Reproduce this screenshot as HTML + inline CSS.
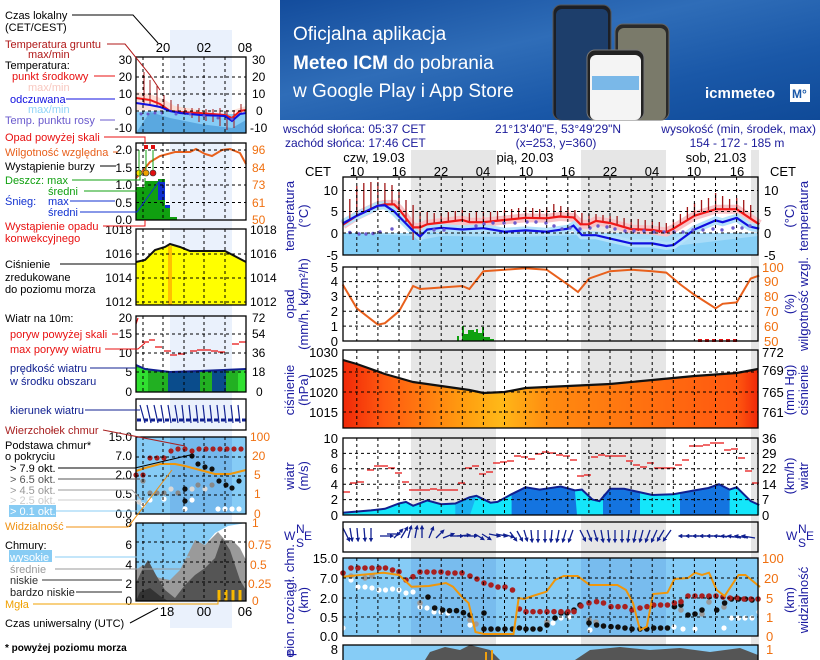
<!DOCTYPE html>
<html><head><meta charset="utf-8"><style>
html,body{margin:0;padding:0;background:#fff;}
svg{display:block;font-family:"Liberation Sans",Arial,sans-serif;}
</style></head><body>
<svg width="820" height="660" viewBox="0 0 820 660" xmlns="http://www.w3.org/2000/svg">
<defs>
<linearGradient id="bn" x1="0" y1="0" x2="1" y2="1"><stop offset="0" stop-color="#134c9c"/><stop offset="0.4" stop-color="#2f6db8"/><stop offset="0.7" stop-color="#1a58a8"/><stop offset="1" stop-color="#0f4a98"/></linearGradient>
<linearGradient id="pr" x1="0" y1="0" x2="1" y2="0"><stop offset="0" stop-color="#f02808"/><stop offset="0.1" stop-color="#ff5a10"/><stop offset="0.3" stop-color="#ffa010"/><stop offset="0.38" stop-color="#ffb818"/><stop offset="0.5" stop-color="#ff8a10"/><stop offset="0.8" stop-color="#ff6810"/><stop offset="0.95" stop-color="#ff5810"/><stop offset="1" stop-color="#f02808"/></linearGradient>
<marker id="ah" markerUnits="userSpaceOnUse" viewBox="0 0 6 6" markerWidth="4.5" markerHeight="4.5" refX="3" refY="3" orient="auto"><path d="M0,0L6,3L0,6Z" fill="#102090"/></marker>
</defs>
<rect width="820" height="660" fill="#fff"/>
<!-- banner -->
<rect x="280" y="0" width="540" height="120" fill="url(#bn)"/>
<text x="293" y="40" font-size="19" fill="#fff">Oficjalna aplikacja</text>
<text x="293" y="69" font-size="19" fill="#fff"><tspan font-weight="bold">Meteo ICM</tspan> do pobrania</text>
<text x="293" y="97" font-size="19" fill="#fff">w Google Play i App Store</text>
<rect x="553" y="5" width="58" height="115" rx="8" fill="#1c1f26" stroke="#555"/>
<rect x="556" y="9" width="52" height="111" rx="6" fill="#1d3e6b"/>
<rect x="615" y="24" width="54" height="96" rx="8" fill="#2a2a2a" stroke="#666"/>
<rect x="618" y="28" width="48" height="92" rx="6" fill="#7a7a6a"/>
<rect x="587" y="50" width="57" height="70" rx="8" fill="#222" stroke="#777"/>
<rect x="590" y="55" width="51" height="65" rx="6" fill="#f4f4f4"/>
<rect x="592" y="76" width="47" height="14" fill="#7ab8e8"/>
<text x="705" y="98" font-size="15" font-weight="bold" fill="#fff">icmmeteo</text>
<rect x="790" y="84" width="20" height="18" fill="#fff"/>
<text x="792" y="98" font-size="12" font-weight="bold" fill="#1a58a8">M°</text>

<!-- night bands -->
<rect x="411" y="150" width="85" height="510" fill="#e6e6e6"/>
<rect x="581" y="150" width="85" height="510" fill="#e6e6e6"/>
<rect x="751" y="150" width="8" height="510" fill="#e6e6e6"/>
<rect x="170" y="30" width="62" height="598" fill="#eaf1fc"/>

<!-- header text -->
<g font-size="12" fill="#1a1a9a">
<text x="283" y="133">wschód słońca: 05:37 CET</text>
<text x="285" y="147">zachód słońca: 17:46 CET</text>
<text x="558" y="133" text-anchor="middle">21°13'40"E, 53°49'29"N</text>
<text x="556" y="147" text-anchor="middle">(x=253,  y=360)</text>
<text x="816" y="133" text-anchor="end">wysokość (min, środek, max)</text>
<text x="737" y="147" text-anchor="middle">154 - 172 - 185 m</text>
</g>
<g font-size="13" fill="#000" text-anchor="middle">
<text x="374" y="162">czw, 19.03</text>
<text x="525" y="162">pią, 20.03</text>
<text x="716" y="162">sob, 21.03</text>
<text x="318" y="176">CET</text><text x="783" y="176">CET</text>
<text x="357" y="176">10</text><text x="399" y="176">16</text><text x="441" y="176">22</text><text x="483" y="176">04</text>
<text x="526" y="176">10</text><text x="568" y="176">16</text><text x="610" y="176">22</text><text x="652" y="176">04</text>
<text x="694" y="176">10</text><text x="737" y="176">16</text>
</g>

<!-- TEMP PANEL 177-255 -->
<rect x="343" y="233" width="415" height="22" fill="#86cff6"/>
<polygon points="343,233 413,233 420,236 441,233 758,233 758,236 666,247 631,244 610,239 580,235 520,237 441,236 420,240 413,236" fill="#a8dcf8"/>
<polyline fill="none" stroke="#f8c4c8" stroke-width="9" points="342.7,224.8 356.8,215.7 377.9,205.7 384.9,204.4 394.1,204.4 399,209.2 413.1,227.4 420.1,227.4 427.2,224.3 441.2,222.6 462.3,220 469.4,222.2 483.4,222.2 504.5,220 525.6,217.8 546.7,218.3 559.4,216.5 573.5,217.4 580.5,224.3 589,224.3 596,220.9 610.1,223 631.2,229.1 652.3,230 666.3,232.1 673.4,228.7 694.5,215.7 715.6,209.2 736.7,209.2 749.4,217.8 759.2,224.3"/>
<polyline fill="none" stroke="#b4e2fa" stroke-width="8" points="342.7,223.5 356.8,215.7 377.9,205.7 384.9,205.3 394.1,211.4 399,216.5 413.1,230.8 420.1,236.5 427.2,229.5 441.2,227.8 462.3,229.5 483.4,228.2 504.5,231.7 525.6,230.4 546.7,231.7 567.9,228.7 573.5,225.6 582,235.2 596,235.2 610.1,238.6 631.2,243.4 652.3,243.4 666.3,246 673.4,245.1 694.5,229.5 715.6,220.4 722.6,222.2 736.7,217.8 749.4,226.5 759.2,228.7"/>
<path stroke="#a01818" stroke-width="1.3" fill="none" d="M349.8 199V221M356.8 186V216M363.8 183V212M370.9 182V208M377.9 182V206M384.9 183V205M392 185V205M399 192V210M406 200V222M413.1 205V240M420.1 212V237M427.2 212V225M434.2 213V224M441.2 213V223M448.3 212V222M455.3 211V221M462.3 210V221M469.4 213V222M476.4 212V222M483.4 212V222M490.5 212V221M497.5 211V221M504.5 210V220M511.6 209V219M518.6 208V219M525.6 207V218M532.7 208V218M539.7 209V219M546.7 207V218M553.8 204V217M560.8 206V217M567.9 207V218M574.9 210V219M581.9 213V225M589 214V225M596 214V222M603 215V222M610.1 216V224M617.1 216V226M624.1 218V228M631.2 219V230M638.2 219V231M645.2 220V231M652.3 221V232M659.3 222V233M666.3 223V233M673.4 220V230M680.4 214V225M687.4 207V219M694.5 203V215M701.5 200V212M708.5 198V210M715.6 193V209M722.6 196V209M729.6 199V209M736.7 198V209M743.7 200V213M750.7 205V218"/>
<polyline fill="none" stroke="#f01818" stroke-width="2.2" points="342.7,224.8 356.8,215.7 377.9,205.7 384.9,204.4 394.1,204.4 399,209.2 413.1,227.4 420.1,227.4 427.2,224.3 441.2,222.6 462.3,220 469.4,222.2 483.4,222.2 504.5,220 525.6,217.8 546.7,218.3 559.4,216.5 573.5,217.4 580.5,224.3 589,224.3 596,220.9 610.1,223 631.2,229.1 652.3,230 666.3,232.1 673.4,228.7 694.5,215.7 715.6,209.2 736.7,209.2 749.4,217.8 759.2,224.3"/>
<polyline fill="none" stroke="#1010e0" stroke-width="2.2" points="342.7,223.5 356.8,215.7 377.9,205.7 384.9,205.3 394.1,211.4 399,216.5 413.1,230.8 420.1,236.5 427.2,229.5 441.2,227.8 462.3,229.5 483.4,228.2 504.5,231.7 525.6,230.4 546.7,231.7 567.9,228.7 573.5,225.6 582,235.2 596,235.2 610.1,238.6 631.2,243.4 652.3,243.4 666.3,246 673.4,245.1 694.5,229.5 715.6,220.4 722.6,222.2 736.7,217.8 749.4,226.5 759.2,228.7"/>
<g fill="#6a5acd">
<circle cx="349.8" cy="232.5" r="1.7"/><circle cx="359" cy="234" r="1.7"/><circle cx="366" cy="234" r="1.7"/><circle cx="373" cy="233.5" r="1.7"/><circle cx="380" cy="232" r="1.7"/><circle cx="392" cy="229" r="1.7"/>
<circle cx="434" cy="230" r="1.7"/><circle cx="444" cy="230" r="1.7"/><circle cx="476" cy="226" r="1.7"/><circle cx="484" cy="224" r="1.7"/><circle cx="493" cy="223" r="1.7"/><circle cx="504" cy="223" r="1.7"/><circle cx="515" cy="223" r="1.7"/><circle cx="527" cy="222" r="1.7"/><circle cx="536" cy="222" r="1.7"/><circle cx="546" cy="223" r="1.7"/><circle cx="554" cy="226" r="1.7"/><circle cx="562" cy="229" r="1.7"/><circle cx="570" cy="228" r="1.7"/>
<circle cx="580" cy="229" r="1.7"/><circle cx="590" cy="228" r="1.7"/><circle cx="598" cy="226" r="1.7"/><circle cx="607" cy="227" r="1.7"/><circle cx="615" cy="229" r="1.7"/><circle cx="625" cy="231" r="1.7"/><circle cx="634" cy="231" r="1.7"/><circle cx="644" cy="231" r="1.7"/><circle cx="654" cy="232" r="1.7"/><circle cx="664" cy="232" r="1.7"/><circle cx="674" cy="232" r="1.7"/><circle cx="683" cy="232" r="1.7"/><circle cx="693" cy="230" r="1.7"/><circle cx="703" cy="230" r="1.7"/><circle cx="713" cy="229" r="1.7"/><circle cx="722" cy="230" r="1.7"/><circle cx="733" cy="228" r="1.7"/><circle cx="742" cy="228" r="1.7"/><circle cx="750" cy="226" r="1.7"/>
</g>

<!-- PRECIP PANEL 267-341 -->
<path fill="#10a010" d="M457 341V336H459V341M462 341V326H464V341M464 341V334H468V341M468 341V330H474V341M474 341V332H476V341M476 341V329H478V341M478 341V333H482V341M482 341V327H484V341M484 341V337H490V341M490 341V339H494V341"/>
<polyline fill="none" stroke="#e8601c" stroke-width="2" points="342.7,284.5 356.8,308.3 377.9,324.7 384.9,323.2 399,311.3 413.1,286 420.1,289 441.2,287.5 462.3,286 469.4,289 483.4,271.2 504.5,269.7 525.6,268.2 546.7,269.7 567.9,284.5 578,292 589,278.6 610.1,271.2 631.2,269.7 652.3,271.2 666.3,272.6 680.4,284.5 694.5,294.9 715.6,308.3 722.6,303.8 736.7,302.4 750.7,278.6 759.2,275.6"/>
<g fill="#e01010"><rect x="698" y="339" width="4" height="3"/><rect x="705" y="339" width="4" height="3"/><rect x="712" y="339" width="4" height="3"/><rect x="719" y="339" width="4" height="3"/><rect x="726" y="339" width="4" height="3"/><rect x="733" y="339" width="4" height="3"/></g>

<!-- PRESSURE PANEL 350-428 -->
<polygon fill="url(#pr)" points="343,360 356.8,364 384.9,374 413.1,382 441.2,386 469.4,390 483.4,393 504.5,392 525.6,388 567.9,386 610.1,384 652.3,380 694.5,376 736.7,373 758,369 758,428 343,428"/>
<polyline fill="none" stroke="#111" stroke-width="2.2" points="343,360 356.8,364 384.9,374 413.1,382 441.2,386 469.4,390 483.4,393 504.5,392 525.6,388 567.9,386 610.1,384 652.3,380 694.5,376 736.7,373 758,369"/>

<!-- WIND PANEL 438-515 -->
<polygon fill="#14e6fa" points="342.7,512.7 370.9,510.4 384.9,508.8 399,503.5 406,501.9 413.1,505.8 427.2,500.4 441.2,504.2 455.3,503.5 469.4,497.3 476.4,495.8 490.5,502.7 497.5,501.9 511.6,494.2 525.6,487.3 539.7,489.6 560.8,486.5 574.9,490.4 581.9,489.6 592.5,499.6 599.5,501.1 610.1,488.8 624.1,488.8 652.3,495 673.4,494.2 694.5,490.4 708.5,488 719,484.2 729.6,489.6 736.7,487.3 750.7,501.1 759.2,505 759.2,515 342.7,515"/>
<polygon fill="#1474e0" points="511.6,494.2 525.6,487.3 539.7,489.6 560.8,486.5 574.9,490.4 577,515 511.6,515"/>
<polygon fill="#1474e0" points="603,495 610.1,488.8 624.1,488.8 640,492 640,515 603,515"/>
<polygon fill="#1474e0" points="680,493 694.5,490.4 708.5,488 719,484.2 729.6,489.6 729.6,515 680,515"/>
<polygon fill="#1ab0f0" points="455.3,503.5 469.4,497.3 476.4,495.8 470,515 455.3,515"/>
<polyline fill="none" stroke="#102090" stroke-width="2" points="342.7,512.7 370.9,510.4 384.9,508.8 399,503.5 406,501.9 413.1,505.8 427.2,500.4 441.2,504.2 455.3,503.5 469.4,497.3 476.4,495.8 490.5,502.7 497.5,501.9 511.6,494.2 525.6,487.3 539.7,489.6 560.8,486.5 574.9,490.4 581.9,489.6 592.5,499.6 599.5,501.1 610.1,488.8 624.1,488.8 652.3,495 673.4,494.2 694.5,490.4 708.5,488 719,484.2 729.6,489.6 736.7,487.3 750.7,501.1 759.2,505"/>
<path stroke="#e81010" stroke-width="1.3" d="M343 492h7M350 483h7M357 482h7M367 470h7M374 466h7M381 466h7M388 468h7M395 473h7M402 482h7M409 490h21M430 489h7M437 490h21M458 483h7M465 468h7M472 466h7M479 474h7M486 472h7M493 463h7M500 462h7M507 461h7M514 456h7M521 457h7M528 459h7M535 454h7M542 452h7M549 453h7M556 455h7M563 456h7M570 460h7M577 476h7M584 475h7M591 457h7M598 455h7M605 456h21M626 461h7M633 465h7M640 467h7M647 463h7M654 468h21M675 465h7M682 460h7M689 446h14M703 445h7M710 443h14M724 450h7M731 449h7M738 458h7M745 471h7M752 483h7"/>

<!-- WIND DIR 522-552 -->
<g stroke="#102090" stroke-width="1.3" fill="none" marker-end="url(#ah)">
<path d="M343 528l6 12"/><path d="M350 528l2 12"/><path d="M357 528l1 12"/><path d="M364 528l1 12"/><path d="M371 528l0 12"/><path d="M380 536l12 0"/><path d="M387 534l12 0"/><path d="M394 538l8-8"/><path d="M401 538l6-10"/><path d="M408 538l3-11"/><path d="M415 538l2-11"/><path d="M422 538l0-11"/><path d="M429 538l4-10"/><path d="M436 538l7-7"/><path d="M443 538l10-4"/><path d="M450 536l12 0"/><path d="M457 536l12-1"/><path d="M464 536l12 0"/><path d="M475 534l8 5"/><path d="M482 534l8 5"/><path d="M489 534l10 2"/><path d="M496 534l10 2"/><path d="M503 534l10 3"/><path d="M510 532l6 8"/><path d="M517 531l5 9"/><path d="M524 530l3 10"/><path d="M531 530l1 11"/><path d="M538 530l0 11"/><path d="M545 530l0 11"/><path d="M552 530l-1 11"/><path d="M559 530l-2 11"/><path d="M566 530l-3 11"/><path d="M573 530l-4 11"/><path d="M580 530l5 10"/><path d="M587 530l4 10"/><path d="M594 530l3 10"/><path d="M601 530l2 11"/><path d="M608 530l1 11"/><path d="M615 530l0 11"/><path d="M622 530l0 11"/><path d="M629 530l-1 11"/><path d="M636 530l-2 11"/><path d="M643 530l-3 11"/><path d="M650 530l-4 11"/><path d="M657 530l-5 11"/><path d="M664 530l-6 10"/><path d="M671 530l-7 10"/><path d="M692 536l-12 0"/><path d="M699 536l-12 0"/><path d="M706 536l-12 0"/><path d="M713 536l-12 0"/><path d="M720 536l-12 0"/><path d="M727 537l-12-1"/><path d="M734 537l-12-1"/><path d="M741 538l-12-2"/><path d="M748 538l-12-2"/><path d="M755 538l-12-2"/>
</g>

<!-- CLOUD PANEL 558-636 -->
<rect x="343" y="558" width="415" height="78" fill="#86ccf6"/>
<rect x="411" y="558" width="85" height="78" fill="#74b8ec" opacity="0.8"/>
<rect x="581" y="558" width="85" height="78" fill="#74b8ec" opacity="0.8"/>
<g fill="#ffffff"><circle cx="343" cy="628" r="2.6"/><circle cx="351" cy="580" r="2.6"/><circle cx="358" cy="587" r="2.6"/><circle cx="365" cy="587" r="2.6"/><circle cx="372" cy="588" r="2.6"/><circle cx="379" cy="590" r="2.6"/><circle cx="385.5" cy="590" r="2.6"/><circle cx="392.5" cy="589" r="2.6"/><circle cx="399" cy="590" r="2.6"/><circle cx="406" cy="593" r="2.6"/><circle cx="413" cy="592" r="2.6"/><circle cx="420" cy="607" r="2.6"/><circle cx="427" cy="608" r="2.6"/><circle cx="434" cy="612" r="2.6"/><circle cx="441" cy="612" r="2.6"/><circle cx="448" cy="613" r="2.6"/><circle cx="470" cy="625" r="2.6"/><circle cx="553" cy="623" r="2.6"/><circle cx="561" cy="618" r="2.6"/><circle cx="569" cy="617" r="2.6"/><circle cx="590" cy="630" r="2.6"/><circle cx="674" cy="627" r="2.6"/><circle cx="683" cy="629" r="2.6"/><circle cx="695" cy="629" r="2.6"/><circle cx="724" cy="628" r="2.6"/><circle cx="731.5" cy="618" r="2.6"/><circle cx="738.5" cy="618" r="2.6"/><circle cx="745" cy="618" r="2.6"/><circle cx="752" cy="618" r="2.6"/><circle cx="759" cy="612" r="2.6"/></g>
<g fill="#9a9a9a"><circle cx="351" cy="576" r="2.8"/><circle cx="365" cy="578" r="2.8"/><circle cx="372" cy="576" r="2.8"/><circle cx="420" cy="603" r="2.8"/><circle cx="470" cy="620" r="2.8"/><circle cx="476" cy="624" r="2.8"/><circle cx="547" cy="622" r="2.8"/><circle cx="589" cy="620" r="2.8"/><circle cx="596" cy="622" r="2.8"/><circle cx="681" cy="610" r="2.8"/><circle cx="702" cy="614" r="2.8"/><circle cx="709" cy="602" r="2.8"/><circle cx="724" cy="607" r="2.8"/></g>
<g fill="#101010"><circle cx="428" cy="597" r="2.8"/><circle cx="434.7" cy="608" r="2.8"/><circle cx="442.6" cy="610" r="2.8"/><circle cx="449.5" cy="610.7" r="2.8"/><circle cx="456.5" cy="610.7" r="2.8"/><circle cx="463.4" cy="612.7" r="2.8"/><circle cx="470" cy="615" r="2.8"/><circle cx="484" cy="613" r="2.8"/><circle cx="484" cy="629" r="2.8"/><circle cx="491" cy="629" r="2.8"/><circle cx="498" cy="629" r="2.8"/><circle cx="505" cy="629" r="2.8"/><circle cx="512.5" cy="629" r="2.8"/><circle cx="519.4" cy="628" r="2.8"/><circle cx="526" cy="629" r="2.8"/><circle cx="533" cy="629" r="2.8"/><circle cx="540" cy="629" r="2.8"/><circle cx="547" cy="625" r="2.8"/><circle cx="555" cy="618" r="2.8"/><circle cx="561" cy="613" r="2.8"/><circle cx="567" cy="613" r="2.8"/><circle cx="574" cy="610" r="2.8"/><circle cx="580" cy="605" r="2.8"/><circle cx="589" cy="623" r="2.8"/><circle cx="596.6" cy="625" r="2.8"/><circle cx="603.5" cy="626" r="2.8"/><circle cx="611" cy="626.7" r="2.8"/><circle cx="618" cy="627" r="2.8"/><circle cx="625" cy="628" r="2.8"/><circle cx="632" cy="629" r="2.8"/><circle cx="640" cy="629" r="2.8"/><circle cx="646.8" cy="629" r="2.8"/><circle cx="653.7" cy="628" r="2.8"/><circle cx="660.6" cy="628" r="2.8"/><circle cx="667.5" cy="628" r="2.8"/><circle cx="674.4" cy="606.7" r="2.8"/><circle cx="681" cy="605" r="2.8"/><circle cx="688" cy="615" r="2.8"/><circle cx="695" cy="614" r="2.8"/><circle cx="702" cy="610" r="2.8"/><circle cx="709" cy="596.7" r="2.8"/><circle cx="716.7" cy="610" r="2.8"/><circle cx="724.6" cy="603" r="2.8"/><circle cx="731.5" cy="599" r="2.8"/><circle cx="738.5" cy="599" r="2.8"/><circle cx="745.4" cy="599" r="2.8"/><circle cx="752" cy="600" r="2.8"/></g>
<g fill="#a82020"><circle cx="343" cy="573" r="2.8"/><circle cx="351" cy="568" r="2.8"/><circle cx="358" cy="568" r="2.8"/><circle cx="365" cy="568" r="2.8"/><circle cx="372" cy="568" r="2.8"/><circle cx="379" cy="568" r="2.8"/><circle cx="385.5" cy="568" r="2.8"/><circle cx="392.5" cy="570" r="2.8"/><circle cx="399" cy="571.7" r="2.8"/><circle cx="406" cy="580" r="2.8"/><circle cx="413" cy="576.7" r="2.8"/><circle cx="420" cy="572" r="2.8"/><circle cx="427" cy="572" r="2.8"/><circle cx="434" cy="572" r="2.8"/><circle cx="441" cy="572" r="2.8"/><circle cx="448" cy="573" r="2.8"/><circle cx="455" cy="573" r="2.8"/><circle cx="462" cy="573" r="2.8"/><circle cx="470" cy="576" r="2.8"/><circle cx="477" cy="579" r="2.8"/><circle cx="484" cy="583" r="2.8"/><circle cx="491" cy="585" r="2.8"/><circle cx="498" cy="587" r="2.8"/><circle cx="505" cy="587" r="2.8"/><circle cx="512.5" cy="590" r="2.8"/><circle cx="519.4" cy="609" r="2.8"/><circle cx="526" cy="611.7" r="2.8"/><circle cx="533" cy="611.7" r="2.8"/><circle cx="540" cy="611.7" r="2.8"/><circle cx="547" cy="611.7" r="2.8"/><circle cx="554" cy="611.7" r="2.8"/><circle cx="561" cy="611.7" r="2.8"/><circle cx="568" cy="611.7" r="2.8"/><circle cx="574" cy="611.7" r="2.8"/><circle cx="581" cy="606" r="2.8"/><circle cx="589" cy="603" r="2.8"/><circle cx="596.6" cy="601.7" r="2.8"/><circle cx="603.5" cy="603" r="2.8"/><circle cx="611" cy="606.7" r="2.8"/><circle cx="618" cy="606.7" r="2.8"/><circle cx="625" cy="606.7" r="2.8"/><circle cx="632" cy="610" r="2.8"/><circle cx="640" cy="608" r="2.8"/><circle cx="647" cy="606.7" r="2.8"/><circle cx="653.7" cy="605" r="2.8"/><circle cx="660.6" cy="605" r="2.8"/><circle cx="667.5" cy="605" r="2.8"/><circle cx="674.4" cy="603" r="2.8"/><circle cx="681" cy="601.7" r="2.8"/><circle cx="688" cy="596" r="2.8"/><circle cx="695" cy="596" r="2.8"/><circle cx="702" cy="596" r="2.8"/><circle cx="709" cy="596" r="2.8"/><circle cx="716" cy="596" r="2.8"/><circle cx="723" cy="597" r="2.8"/><circle cx="730" cy="598" r="2.8"/><circle cx="737" cy="598" r="2.8"/><circle cx="744" cy="599" r="2.8"/><circle cx="751" cy="599" r="2.8"/><circle cx="758" cy="599" r="2.8"/></g>
<polyline fill="none" stroke="#f0960a" stroke-width="2" points="343,576.7 360,575 383.8,572.7 399,575 411.5,586.7 428.8,586 446,583 453,586.7 461.7,596.7 468.6,603 475.5,632 484,634 513.5,634 518.7,598 524,599 532.6,596 546.4,591.7 555,580 563.7,576 577.6,576 589.7,585 617.4,585 626,590 633,603 640,630 646.8,626.7 653,594 667.5,592.7 674.4,579 688,578 695,572.7 702,575 709,572.7 716.7,590 724.6,596 738.5,575 745.4,575 760,587"/>

<!-- bottom cloud types panel -->
<rect x="343" y="645" width="415" height="15" fill="#86ccf6"/>
<polygon fill="#555" points="425,660 430,652 445,647 460,650 470,645 490,650 500,660"/>
<polygon fill="#555" points="575,660 590,650 620,647 650,650 680,648 710,652 740,648 758,655 758,660"/>
<rect x="485" y="652" width="2" height="8" fill="#f0a010"/><rect x="491" y="650" width="2" height="10" fill="#f0a010"/>

<!-- grids -->
<g stroke="#000" stroke-width="1" stroke-dasharray="3,3" fill="none">
<path d="M356.8 177V255M377.9 177V255M399 177V255M420.1 177V255M441.2 177V255M462.3 177V255M483.4 177V255M504.5 177V255M525.6 177V255M546.7 177V255M567.8 177V255M588.9 177V255M610 177V255M631.1 177V255M652.2 177V255M673.3 177V255M694.4 177V255M715.5 177V255M736.6 177V255"/>
<path d="M343 190.5H758M343 211.5H758M343 233H758"/>
<path d="M356.8 267V341M377.9 267V341M399 267V341M420.1 267V341M441.2 267V341M462.3 267V341M483.4 267V341M504.5 267V341M525.6 267V341M546.7 267V341M567.8 267V341M588.9 267V341M610 267V341M631.1 267V341M652.2 267V341M673.3 267V341M694.4 267V341M715.5 267V341M736.6 267V341"/>
<path d="M343 281.6H758M343 296.4H758M343 311.3H758M343 326.1H758"/>
<path d="M356.8 350V428M377.9 350V428M399 350V428M420.1 350V428M441.2 350V428M462.3 350V428M483.4 350V428M504.5 350V428M525.6 350V428M546.7 350V428M567.8 350V428M588.9 350V428M610 350V428M631.1 350V428M652.2 350V428M673.3 350V428M694.4 350V428M715.5 350V428M736.6 350V428"/>
<path d="M343 372H758M343 392H758M343 412H758"/>
<path d="M356.8 438V515M377.9 438V515M399 438V515M420.1 438V515M441.2 438V515M462.3 438V515M483.4 438V515M504.5 438V515M525.6 438V515M546.7 438V515M567.8 438V515M588.9 438V515M610 438V515M631.1 438V515M652.2 438V515M673.3 438V515M694.4 438V515M715.5 438V515M736.6 438V515"/>
<path d="M343 453.4H758M343 468.8H758M343 484.2H758M343 499.6H758"/>
<path d="M356.8 558V636M377.9 558V636M399 558V636M420.1 558V636M441.2 558V636M462.3 558V636M483.4 558V636M504.5 558V636M525.6 558V636M546.7 558V636M567.8 558V636M588.9 558V636M610 558V636M631.1 558V636M652.2 558V636M673.3 558V636M694.4 558V636M715.5 558V636M736.6 558V636"/>
<path d="M343 578H758M343 598H758M343 617H758"/>
</g>
<g fill="none" stroke="#000" stroke-width="1.3">
<rect x="343" y="177" width="415" height="78"/>
<rect x="343" y="267" width="415" height="74"/>
<rect x="343" y="350" width="415" height="78"/>
<rect x="343" y="438" width="415" height="77"/>
<rect x="343" y="522" width="415" height="30"/>
<rect x="343" y="558" width="415" height="78"/>
<rect x="343" y="645" width="415" height="20"/>
</g>

<!-- axis labels -->
<g font-size="13" fill="#000" text-anchor="end">
<text x="338" y="195">10</text><text x="338" y="216">5</text><text x="338" y="238">0</text><text x="338" y="260">-5</text>
<text x="338" y="272">5</text><text x="338" y="286">4</text><text x="338" y="301">3</text><text x="338" y="316">2</text><text x="338" y="331">1</text><text x="338" y="346">0</text>
<text x="338" y="357">1030</text><text x="338" y="377">1025</text><text x="338" y="397">1020</text><text x="338" y="417">1015</text>
<text x="338" y="443">10</text><text x="338" y="458">8</text><text x="338" y="473">6</text><text x="338" y="489">4</text><text x="338" y="504">2</text><text x="338" y="520">0</text>
<text x="338" y="563">15.0</text><text x="338" y="583">7.0</text><text x="338" y="603">2.0</text><text x="338" y="622">0.5</text><text x="338" y="641">0.0</text>
<text x="338" y="654">8</text>
</g>
<g font-size="13" fill="#000">
<text x="764" y="195">10</text><text x="764" y="216">5</text><text x="764" y="238">0</text><text x="764" y="260">-5</text>
<text x="762" y="357">772</text><text x="762" y="375">769</text><text x="762" y="397">765</text><text x="762" y="417">761</text>
<text x="762" y="443">36</text><text x="762" y="458">29</text><text x="762" y="473">22</text><text x="762" y="489">14</text><text x="762" y="504">7</text><text x="762" y="520">0</text>
</g>
<g font-size="13" fill="#f07010">
<text x="762" y="272">100</text><text x="764" y="286">90</text><text x="764" y="301">80</text><text x="764" y="316">70</text><text x="764" y="331">60</text><text x="764" y="346">50</text>
<text x="762" y="563">100</text><text x="764" y="583">20</text><text x="766" y="603">5</text><text x="766" y="622">1</text><text x="766" y="641">0</text>
<text x="766" y="654">1</text>
</g>
<g font-size="13" fill="#1a1aa0" text-anchor="middle">
<text transform="translate(294,216) rotate(-90)">temperatura</text><text transform="translate(308,216) rotate(-90)">(°C)</text>
<text transform="translate(794,216) rotate(-90)">(°C)</text><text transform="translate(808,216) rotate(-90)">temperatura</text>
<text transform="translate(294,304) rotate(-90)">opad</text><text transform="translate(308,304) rotate(-90)">(mm/h, kg/m²/h)</text>
<text transform="translate(794,304) rotate(-90)">(%)</text><text transform="translate(808,304) rotate(-90)">wilgotność wzgl.</text>
<text transform="translate(294,390) rotate(-90)">ciśnienie</text><text transform="translate(308,390) rotate(-90)">(hPa)</text>
<text transform="translate(794,390) rotate(-90)">(mm Hg)</text><text transform="translate(808,390) rotate(-90)">ciśnienie</text>
<text transform="translate(294,476) rotate(-90)">wiatr</text><text transform="translate(308,476) rotate(-90)">(m/s)</text>
<text transform="translate(794,476) rotate(-90)">(km/h)</text><text transform="translate(808,476) rotate(-90)">wiatr</text>
<text transform="translate(294,600) rotate(-90)">pion. rozciągł. chm.</text><text transform="translate(308,600) rotate(-90)">(km)</text>
<text transform="translate(794,600) rotate(-90)">(km)</text><text transform="translate(808,600) rotate(-90)">widzialność</text>
<text transform="translate(294,654) rotate(-90)">e</text>
</g>
<g font-size="12" fill="#1a1aa0">
<text x="284" y="540">W</text><text x="296" y="533">N</text><text x="296" y="547">S</text><text x="304" y="540">E</text>
<text x="786" y="540">W</text><text x="798" y="533">N</text><text x="798" y="547">S</text><text x="806" y="540">E</text>
</g>

<!-- ========== LEFT LEGEND MINI METEOGRAM ========== -->
<polygon fill="#fbe0d8" points="136,92 150,94 165,100 175,106 200,110 230,111 246,106 246,112 136,110"/>
<polygon fill="#86ccf6" points="136,112 170,110 200,114 246,114 246,133 136,133"/>
<polygon fill="#5aa8e0" points="150,112 170,118 200,124 232,128 246,120 246,133 136,133"/>
<path stroke="#a01818" stroke-width="1" d="M144 72V105M150 80V104M157 86V107M164 95V108M171 100V110M178 104V111M185 108V115M192 108V118M199 108V122M206 109V121M213 109V122M220 108V126M227 110V130M234 110V128M241 104V114"/>
<polyline fill="none" stroke="#f01818" stroke-width="2" points="136,98 150,100 160,104 170,111 180,112 200,113 225,115 232,118 240,111 246,110"/>
<polyline fill="none" stroke="#1010e0" stroke-width="2" points="136,103 150,105 160,107 170,111 180,113 200,115 225,116 232,121 240,114 246,113"/>
<g fill="#6a5acd"><circle cx="141" cy="114" r="1.5"/><circle cx="148" cy="114" r="1.5"/><circle cx="155" cy="113" r="1.5"/><circle cx="162" cy="113" r="1.5"/><circle cx="176" cy="114" r="1.5"/><circle cx="190" cy="114" r="1.5"/><circle cx="204" cy="116" r="1.5"/><circle cx="218" cy="118" r="1.5"/><circle cx="232" cy="119" r="1.5"/></g>
<path fill="#10a010" d="M136 220V187H145V181H158V179H165V205H170V217H177V220Z"/>
<rect x="158" y="182" width="7" height="18" fill="#1030d0"/>
<rect x="165" y="205" width="5" height="3" fill="#1030d0"/>
<polyline fill="none" stroke="#e8601c" stroke-width="2" points="136,178 142,172 150,162 160,156 175,152 190,152 196,149 205,154 212,156 222,150 230,149 240,153 246,164"/>
<g fill="#e01010"><rect x="144" y="145" width="4" height="4"/><rect x="151" y="145" width="4" height="4"/></g>
<path stroke="#10a010" d="M139 170V150M146 170V150M153 170V150" fill="none"/>
<circle cx="139" cy="173" r="3" fill="#f8e000" stroke="#333" stroke-width="0.6"/><circle cx="146" cy="173" r="3" fill="#f0a000" stroke="#333" stroke-width="0.6"/><circle cx="153" cy="173" r="3" fill="#e01010" stroke="#333" stroke-width="0.6"/>
<polygon fill="#ffff00" points="136,262 145,260 155,250 165,247 170,244 180,247 190,251 225,251 246,262 246,305 136,305"/>
<rect x="168" y="246" width="4" height="59" fill="#ffc000"/>
<polyline fill="none" stroke="#111" stroke-width="2" points="136,262 145,260 155,250 165,247 170,244 180,247 190,251 225,251 246,262"/>
<polygon fill="#22b022" points="136,365 145,369 170,372 200,371 246,369 246,392 136,392"/>
<rect x="168" y="372" width="32" height="20" fill="#0a4c8c"/>
<rect x="212" y="371" width="14" height="21" fill="#0a4c8c"/>
<rect x="136" y="368" width="12" height="24" fill="#30e030"/>
<rect x="238" y="369" width="8" height="23" fill="#30e030"/>
<polyline fill="none" stroke="#102090" stroke-width="2" points="136,365 145,369 170,372 200,371 246,369"/>
<path stroke="#e81010" stroke-width="1.2" d="M138 318L136 324M142 342h7M149 340h6M155 347h7M164 351h7M170 355h7M178 354h7M190 351h7M197 350h7M204 350h7M211 351h7M218 352h7M232 344h7M239 342h7"/>
<path stroke="#102090" stroke-width="1.2" fill="none" d="M140 405l5 18M147 405l4 18M154 405l4 18M161 405l3 18M168 405l3 18M175 405l3 18M182 405l2 18M189 405l2 18M196 405l2 18M203 405l2 18M210 405l2 18M217 405l2 18M224 405l2 18M231 405l2 18M238 405l2 18"/>
<path stroke="#102090" stroke-width="3" d="M137 420h112" stroke-dasharray="4,3"/>
<rect x="136" y="437" width="110" height="77" fill="#86ccf6"/>
<rect x="170" y="437" width="62" height="77" fill="#74b8ec"/>
<polyline fill="none" stroke="#f0960a" stroke-width="2" points="136,471 145,468 160,464 175,464 185,466 200,470 215,474 230,474 246,470"/>
<g fill="#a82020"><circle cx="150" cy="458" r="2.6"/><circle cx="157" cy="458" r="2.6"/><circle cx="164" cy="458" r="2.6"/><circle cx="136" cy="475" r="2.6"/><circle cx="143" cy="475" r="2.6"/><circle cx="171" cy="451" r="2.6"/><circle cx="178" cy="449" r="2.6"/><circle cx="185" cy="449" r="2.6"/><circle cx="192" cy="451" r="2.6"/><circle cx="199" cy="449" r="2.6"/><circle cx="206" cy="449" r="2.6"/><circle cx="213" cy="449" r="2.6"/><circle cx="220" cy="449" r="2.6"/><circle cx="227" cy="449" r="2.6"/><circle cx="234" cy="449" r="2.6"/><circle cx="241" cy="449" r="2.6"/></g>
<g fill="#101010"><circle cx="192" cy="456" r="2.6"/><circle cx="198" cy="464" r="2.6"/><circle cx="205" cy="467" r="2.6"/><circle cx="212" cy="469" r="2.6"/><circle cx="219" cy="481" r="2.6"/><circle cx="226" cy="485" r="2.6"/><circle cx="232" cy="488" r="2.6"/><circle cx="239" cy="481" r="2.6"/><circle cx="185" cy="489" r="2.6"/><circle cx="185" cy="501" r="2.6"/></g>
<g fill="#888"><circle cx="143" cy="481" r="2.6"/><circle cx="150" cy="493" r="2.6"/><circle cx="157" cy="493" r="2.6"/><circle cx="164" cy="493" r="2.6"/><circle cx="178" cy="493" r="2.6"/><circle cx="198" cy="485" r="2.6"/><circle cx="212" cy="485" r="2.6"/></g>
<g fill="#d8d8d8"><circle cx="171" cy="489" r="2.6"/><circle cx="192" cy="489" r="2.6"/><circle cx="205" cy="489" r="2.6"/><circle cx="139" cy="502" r="2.6"/></g>
<g fill="#fff"><circle cx="143" cy="505" r="2.6"/><circle cx="150" cy="500" r="2.6"/><circle cx="164" cy="499" r="2.6"/><circle cx="192" cy="500" r="2.6"/><circle cx="185" cy="509" r="2.6"/><circle cx="218" cy="509" r="2.6"/><circle cx="225" cy="509" r="2.6"/><circle cx="232" cy="509" r="2.6"/><circle cx="239" cy="509" r="2.6"/></g>
<rect x="136" y="523" width="110" height="78" fill="#86ccf6"/>
<polygon fill="#fff" points="180,601 185,570 195,555 205,545 215,533 228,526 246,523 246,601"/>
<polygon fill="#9a9a9a" points="136,601 136,570 143,565 150,575 160,578 170,580 180,570 195,540 205,545 218,532 225,540 232,540 240,548 246,560 246,601"/>
<polygon fill="#555" points="136,601 136,583 143,568 148,560 156,575 165,590 175,598 185,585 195,575 205,568 215,558 222,538 230,550 240,580 246,590 246,601"/>
<polygon fill="#333" points="136,601 140,592 150,588 160,596 168,601"/>
<path stroke="#f8b800" stroke-width="3" d="M219 601V590M226 601V590M233 601V590M240 601V590"/>
<g stroke="#000" stroke-width="1" stroke-dasharray="3,3" fill="none">
<path d="M143 57V133M163 57V133M184 57V133M204 57V133M225 57V133M136 77H246M136 94H246M136 111H246"/>
<path d="M143 143V220M163 143V220M184 143V220M204 143V220M225 143V220M136 150H246M136 167.5H246M136 185H246M136 202.5H246"/>
<path d="M143 229V305M163 229V305M184 229V305M204 229V305M225 229V305M136 254H246M136 278H246M136 302H246"/>
<path d="M143 316V392M163 316V392M184 316V392M204 316V392M225 316V392M136 334H246M136 353H246M136 372H246"/>
<path d="M143 437V514M163 437V514M184 437V514M204 437V514M225 437V514M136 457H246M136 476H246M136 495H246"/>
<path d="M143 523V601M163 523V601M184 523V601M204 523V601M225 523V601M136 542H246M136 562H246M136 582H246"/>
</g>
<g fill="none" stroke="#000" stroke-width="1.3">
<rect x="136" y="57" width="110" height="76"/><rect x="136" y="143" width="110" height="77"/><rect x="136" y="229" width="110" height="76"/>
<rect x="136" y="316" width="110" height="76"/><rect x="136" y="399" width="110" height="31"/><rect x="136" y="437" width="110" height="77"/><rect x="136" y="523" width="110" height="78"/>
</g>
<g font-size="12" fill="#000" text-anchor="end">
<text x="132" y="64">30</text><text x="132" y="81">20</text><text x="132" y="98">10</text><text x="132" y="115">0</text><text x="132" y="132">-10</text>
<text x="132" y="154">2.0</text><text x="132" y="172">1.5</text><text x="132" y="189">1.0</text><text x="132" y="207">0.5</text><text x="132" y="224">0.0</text>
<text x="132" y="234">1018</text><text x="132" y="258">1016</text><text x="132" y="282">1014</text><text x="132" y="306">1012</text>
<text x="132" y="322">20</text><text x="132" y="338">15</text><text x="132" y="357">10</text><text x="132" y="376">5</text><text x="132" y="396">0</text>
<text x="132" y="441">15.0</text><text x="132" y="460">7.0</text><text x="132" y="479">2.0</text><text x="132" y="498">0.5</text><text x="132" y="518">0.0</text>
<text x="132" y="527">8</text><text x="132" y="549">6</text><text x="132" y="569">4</text><text x="132" y="588">2</text><text x="132" y="605">0</text>
</g>
<g font-size="12" fill="#000">
<text x="252" y="64">30</text><text x="252" y="81">20</text><text x="252" y="98">10</text><text x="256" y="115">0</text><text x="250" y="132">-10</text>
<text x="250" y="234">1018</text><text x="250" y="258">1016</text><text x="250" y="282">1014</text><text x="250" y="306">1012</text>
<text x="252" y="322">72</text><text x="252" y="338">54</text><text x="252" y="357">36</text><text x="252" y="376">18</text><text x="256" y="396">0</text>
</g>
<g font-size="12" fill="#f07010">
<text x="252" y="154">96</text><text x="252" y="172">84</text><text x="252" y="189">73</text><text x="252" y="207">61</text><text x="252" y="224">50</text>
<text x="250" y="441">100</text><text x="252" y="460">20</text><text x="254" y="479">5</text><text x="254" y="498">1</text><text x="254" y="518">0</text>
<text x="252" y="527">1</text><text x="248" y="549">0.75</text><text x="250" y="569">0.5</text><text x="248" y="588">0.25</text><text x="252" y="605">0</text>
</g>
<g font-size="13" fill="#000" text-anchor="middle">
<text x="163" y="52">20</text><text x="204" y="52">02</text><text x="245" y="52">08</text>
<text x="167" y="616">18</text><text x="204" y="616">00</text><text x="245" y="616">06</text>
</g>

<!-- left legend labels -->
<g font-size="11">
<text x="5" y="19" fill="#000">Czas lokalny</text><text x="5" y="31" fill="#000">(CET/CEST)</text>
<text x="5" y="48" fill="#b01818">Temperatura gruntu</text><text x="28" y="58" fill="#b01818">max/min</text>
<text x="5" y="69" fill="#000">Temperatura:</text>
<text x="12" y="80" fill="#e81010">punkt środkowy</text>
<text x="28" y="91" fill="#f8c8c0">max/min</text>
<text x="10" y="103" fill="#1010e0">odczuwana</text>
<text x="28" y="113" fill="#90d4f8">max/min</text>
<text x="5" y="124" fill="#6a5acd">Temp. punktu rosy</text>
<text x="5" y="141" fill="#e81010">Opad powyżej skali</text>
<text x="5" y="156" fill="#e8601c">Wilgotność względna</text>
<text x="5" y="170" fill="#000">Wystąpienie burzy</text>
<text x="5" y="184" fill="#10a010">Deszcz: max</text>
<text x="48" y="195" fill="#10a010">średni</text>
<text x="5" y="205" fill="#1030d0">Śnieg:</text><text x="48" y="205" fill="#1030d0">max</text>
<text x="48" y="216" fill="#1030d0">średni</text>
<text x="5" y="230" fill="#e81010">Wystąpienie opadu</text><text x="5" y="242" fill="#e81010">konwekcyjnego</text>
<text x="5" y="268" fill="#000">Ciśnienie</text><text x="5" y="281" fill="#000">zredukowane</text><text x="5" y="293" fill="#000">do poziomu morza</text>
<text x="5" y="322" fill="#000">Wiatr na 10m:</text>
<text x="10" y="338" fill="#e81010">poryw powyżej skali</text>
<text x="10" y="353" fill="#e81010">max porywy wiatru</text>
<text x="10" y="372" fill="#102090">prędkość wiatru</text><text x="10" y="385" fill="#102090">w środku obszaru</text>
<text x="10" y="414" fill="#102090">kierunek wiatru</text>
<text x="5" y="434" fill="#a82020">Wierzchołek chmur</text>
<text x="5" y="449" fill="#000">Podstawa chmur*</text><text x="5" y="460" fill="#000">o pokryciu</text>
<text x="10" y="472" fill="#000">&gt; 7.9 okt.</text>
<text x="10" y="483" fill="#555">&gt; 6.5 okt.</text>
<text x="10" y="494" fill="#999">&gt; 4.5 okt.</text>
<text x="10" y="504" fill="#ccc">&gt; 2.5 okt.</text>
<rect x="9" y="505" width="47" height="12" fill="#88ccf4"/>
<text x="10" y="515" fill="#fff">&gt; 0.1 okt.</text>
<text x="5" y="530" fill="#f09010">Widzialność</text>
<text x="5" y="549" fill="#000">Chmury:</text>
<rect x="9" y="550" width="43" height="12" fill="#88ccf4"/>
<text x="10" y="561" fill="#fff">wysokie</text>
<text x="10" y="573" fill="#999">średnie</text>
<text x="10" y="584" fill="#333">niskie</text>
<text x="10" y="596" fill="#222">bardzo niskie</text>
<text x="5" y="608" fill="#f0a000">Mgła</text>
<text x="5" y="627" fill="#000">Czas uniwersalny (UTC)</text>
<text x="5" y="651" font-size="10" font-weight="bold" fill="#000">* powyżej poziomu morza</text>
</g>
<g fill="none" stroke-width="1">
<path stroke="#000" d="M72 15H133L158 43"/>
<path stroke="#b01818" d="M107 44H125L150 75L160 90"/>
<path stroke="#e81010" d="M94 76H115"/>
<path stroke="#1010e0" d="M66 99H115"/>
<path stroke="#6a5acd" d="M100 120H115"/>
<path stroke="#e81010" d="M104 137H145V144"/>
<path stroke="#e8601c" d="M113 152H118"/>
<path stroke="#000" d="M100 166H116"/>
<path stroke="#10a010" d="M72 180H140V170M84 191H145V178"/>
<path stroke="#1030d0" d="M70 201H115M80 212H137L160 180"/>
<path stroke="#e81010" d="M103 226H145V220"/>
<path stroke="#000" d="M60 264H136"/>
<path stroke="#e81010" d="M112 334H118M105 349H138L145 343"/>
<path stroke="#102090" d="M90 368H136"/>
<path stroke="#102090" d="M85 410H140"/>
<path stroke="#a82020" d="M103 430L185 446"/>
<path stroke="#000" d="M58 468H135L190 455"/>
<path stroke="#555" d="M58 479H140"/>
<path stroke="#999" d="M58 490H132L142 500"/>
<path stroke="#ccc" d="M58 500H135L142 505"/>
<path stroke="#88ccf4" d="M56 511H140"/>
<path stroke="#f09010" d="M66 527H128L172 470"/>
<path stroke="#88ccf4" d="M55 557H190"/>
<path stroke="#999" d="M55 569H195"/>
<path stroke="#333" d="M42 580H122"/>
<path stroke="#222" d="M76 592H122"/>
<path stroke="#f0a000" d="M33 604H218V598"/>
<path stroke="#000" d="M130 623L158 608"/>
</g>
</svg>
</body></html>
